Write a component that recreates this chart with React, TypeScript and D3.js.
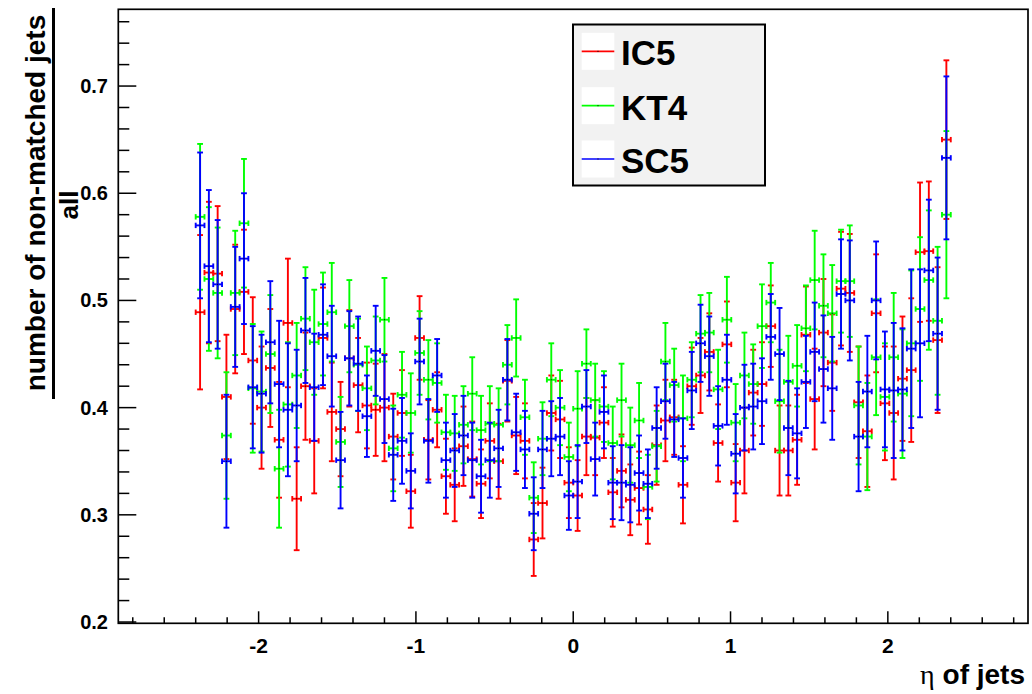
import React from "react";
import * as d3 from "d3";

// Histogram binning (eta of jets): 86 bins between -2.4 and 2.4
const etaMin = -2.4;
const etaMax = 2.4;
const nBins = 86;

const seriesNames = ["IC5", "KT4", "SC5"];
const seriesColors = ["#ff0000", "#00ff00", "#0000ff"];

const ic5 = [
  0.489, 0.526, 0.525, 0.410, 0.492, 0.508, 0.444, 0.400, 0.437, 0.370,
  0.479, 0.315, 0.420, 0.369, 0.465, 0.396, 0.380, 0.446, 0.421, 0.402,
  0.398, 0.400, 0.373, 0.395, 0.322, 0.465, 0.370, 0.398, 0.336, 0.328,
  0.364, 0.352, 0.329, 0.369, 0.350, 0.425, 0.374, 0.369, 0.277, 0.311,
  0.395, 0.389, 0.330, 0.318, 0.373, 0.372, 0.386, 0.321, 0.341, 0.314,
  0.325, 0.305, 0.365, 0.388, 0.391, 0.328, 0.420, 0.430, 0.452, 0.367,
  0.459, 0.330, 0.360, 0.414, 0.422, 0.476, 0.360, 0.360, 0.370, 0.468,
  0.408, 0.470, 0.442, 0.511, 0.507, 0.405, 0.378, 0.488, 0.404, 0.395,
  0.427, 0.435, 0.545, 0.546, 0.463, 0.650,
];
const ic5Err = [
  0.072, 0.066, 0.063, 0.058, 0.060, 0.058, 0.059, 0.057, 0.055, 0.054,
  0.060, 0.048, 0.050, 0.049, 0.047, 0.046, 0.044, 0.045, 0.044, 0.040,
  0.043, 0.050, 0.040, 0.040, 0.034, 0.039, 0.037, 0.035, 0.035, 0.034,
  0.037, 0.035, 0.032, 0.035, 0.035, 0.038, 0.036, 0.035, 0.034, 0.033,
  0.035, 0.036, 0.033, 0.033, 0.036, 0.035, 0.033, 0.032, 0.034, 0.033,
  0.034, 0.032, 0.037, 0.038, 0.035, 0.036, 0.036, 0.035, 0.036, 0.036,
  0.040, 0.036, 0.040, 0.040, 0.039, 0.038, 0.042, 0.042, 0.042, 0.045,
  0.047, 0.050, 0.045, 0.053, 0.055, 0.052, 0.052, 0.055, 0.053, 0.062,
  0.058, 0.067, 0.065, 0.065, 0.068, 0.074,
];
const kt4 = [
  0.578, 0.520, 0.507, 0.374, 0.507, 0.572, 0.418, 0.415, 0.450, 0.343,
  0.403, 0.430, 0.483, 0.461, 0.478, 0.489, 0.368, 0.476, 0.440, 0.418,
  0.444, 0.482, 0.362, 0.412, 0.395, 0.451, 0.426, 0.423, 0.377, 0.376,
  0.384, 0.413, 0.379, 0.385, 0.384, 0.440, 0.465, 0.391, 0.316, 0.371,
  0.426, 0.400, 0.354, 0.399, 0.441, 0.407, 0.401, 0.367, 0.407, 0.365,
  0.388, 0.326, 0.364, 0.443, 0.421, 0.390, 0.426, 0.469, 0.470, 0.417,
  0.482, 0.386, 0.430, 0.422, 0.476, 0.498, 0.406, 0.424, 0.439, 0.474,
  0.519, 0.495, 0.488, 0.518, 0.518, 0.402, 0.373, 0.447, 0.410, 0.447,
  0.413, 0.460, 0.492, 0.519, 0.481, 0.580,
];
const kt4Err = [
  0.068, 0.067, 0.061, 0.059, 0.058, 0.060, 0.060, 0.056, 0.055, 0.055,
  0.058, 0.049, 0.048, 0.049, 0.048, 0.046, 0.042, 0.043, 0.043, 0.039,
  0.041, 0.039, 0.040, 0.040, 0.037, 0.039, 0.037, 0.037, 0.035, 0.035,
  0.036, 0.034, 0.032, 0.035, 0.034, 0.037, 0.036, 0.035, 0.033, 0.034,
  0.034, 0.035, 0.032, 0.035, 0.032, 0.034, 0.033, 0.034, 0.034, 0.035,
  0.035, 0.030, 0.033, 0.036, 0.034, 0.040, 0.035, 0.036, 0.037, 0.037,
  0.040, 0.036, 0.040, 0.037, 0.039, 0.037, 0.048, 0.043, 0.038, 0.040,
  0.046, 0.048, 0.045, 0.048, 0.052, 0.055, 0.050, 0.054, 0.050, 0.060,
  0.060, 0.068, 0.067, 0.065, 0.069, 0.078,
];
const sc5 = [
  0.570, 0.532, 0.515, 0.350, 0.494, 0.539, 0.419, 0.413, 0.461, 0.422,
  0.398, 0.402, 0.472, 0.419, 0.468, 0.448, 0.351, 0.446, 0.441, 0.392,
  0.453, 0.408, 0.356, 0.369, 0.341, 0.443, 0.369, 0.430, 0.351, 0.360,
  0.374, 0.351, 0.336, 0.351, 0.362, 0.426, 0.377, 0.361, 0.301, 0.361,
  0.371, 0.373, 0.318, 0.331, 0.401, 0.352, 0.396, 0.330, 0.330, 0.328,
  0.339, 0.329, 0.381, 0.406, 0.389, 0.353, 0.416, 0.460, 0.448, 0.383,
  0.426, 0.357, 0.400, 0.401, 0.406, 0.466, 0.450, 0.381, 0.376, 0.424,
  0.452, 0.436, 0.418, 0.506, 0.500, 0.373, 0.415, 0.500, 0.417, 0.416,
  0.417, 0.455, 0.460, 0.528, 0.469, 0.633,
];
const sc5Err = [
  0.068, 0.071, 0.060, 0.062, 0.056, 0.061, 0.057, 0.055, 0.057, 0.059,
  0.062, 0.052, 0.049, 0.050, 0.047, 0.047, 0.045, 0.044, 0.044, 0.038,
  0.042, 0.041, 0.043, 0.040, 0.035, 0.040, 0.039, 0.034, 0.035, 0.034,
  0.037, 0.035, 0.034, 0.035, 0.036, 0.038, 0.036, 0.036, 0.034, 0.036,
  0.035, 0.036, 0.032, 0.034, 0.034, 0.034, 0.034, 0.034, 0.035, 0.035,
  0.035, 0.032, 0.038, 0.035, 0.035, 0.037, 0.036, 0.036, 0.037, 0.037,
  0.042, 0.037, 0.040, 0.040, 0.040, 0.040, 0.043, 0.044, 0.042, 0.043,
  0.046, 0.050, 0.048, 0.051, 0.056, 0.051, 0.052, 0.055, 0.054, 0.063,
  0.057, 0.074, 0.069, 0.066, 0.071, 0.076,
];

const xTickLabels = ["-2", "-1", "0", "1", "2"];
const yTickLabels = ["0.2", "0.3", "0.4", "0.5", "0.6", "0.7"];

const W = 1032;
const H = 694;
const FRAME = { left: 118.3, right: 1028, top: 9.3, bottom: 623.3 };
const FONT = "'Liberation Sans', Arial, Helvetica, sans-serif";

export default function App() {
  const x = d3.scaleLinear().domain([-2.892, 2.891]).range([FRAME.left, FRAME.right]);
  const y = d3.scaleLinear().domain([0.1988, 0.7716]).range([FRAME.bottom, FRAME.top]);
  const binW = (etaMax - etaMin) / nBins;
  const centers = d3.range(nBins).map((i) => etaMin + (i + 0.5) * binW);

  const series = [
    { name: seriesNames[0], color: seriesColors[0], v: ic5, e: ic5Err },
    { name: seriesNames[1], color: seriesColors[1], v: kt4, e: kt4Err },
    { name: seriesNames[2], color: seriesColors[2], v: sc5, e: sc5Err },
  ];

  const sw = 1.9;
  const capW = 2.9;
  const capH = 2.7;

  const xMajor = xTickLabels.map((t) => +t);
  const xMinor = d3.range(-28, 29, 2).map((d) => d / 10).filter((d) => Math.abs(d - Math.round(d)) > 1e-6);
  const yMajor = yTickLabels.map((t) => +t);
  const yMinor = d3.range(20, 78, 2).map((d) => d / 100).filter((d) => Math.abs(d * 10 - Math.round(d * 10)) > 1e-6 && d < 0.7716);

  const legendY = [51.3, 105.7, 159];

  return (
    <svg width={W} height={H} style={{ position: "fixed", left: 0, top: 0, background: "#fff" }} fontFamily={FONT}>
      <rect x={0} y={0} width={W} height={H} fill="#fff" />
      {/* frame */}
      <rect x={FRAME.left} y={FRAME.top} width={FRAME.right - FRAME.left} height={FRAME.bottom - FRAME.top} fill="none" stroke="#000" strokeWidth={1.7} />
      {/* x ticks */}
      {xMajor.map((t) => (
        <line key={"xM" + t} x1={x(t)} x2={x(t)} y1={FRAME.bottom} y2={FRAME.bottom - 12} stroke="#000" strokeWidth={1.5} />
      ))}
      {xMinor.map((t) => (
        <line key={"xm" + t} x1={x(t)} x2={x(t)} y1={FRAME.bottom} y2={FRAME.bottom - 6} stroke="#000" strokeWidth={1.5} />
      ))}
      {xTickLabels.map((t) => (
        <text key={"xl" + t} x={x(+t)} y={653} textAnchor="middle" fontSize={21} fontWeight="bold">{t}</text>
      ))}
      {/* y ticks */}
      {yMajor.map((t) => (
        <line key={"yM" + t} x1={FRAME.left} x2={FRAME.left + 18} y1={y(t)} y2={y(t)} stroke="#000" strokeWidth={1.5} />
      ))}
      {yMinor.map((t) => (
        <line key={"ym" + t} x1={FRAME.left} x2={FRAME.left + 11} y1={y(t)} y2={y(t)} stroke="#000" strokeWidth={1.5} />
      ))}
      {yTickLabels.map((t) => (
        <text key={"yl" + t} x={108} y={y(+t) + 7} textAnchor="end" fontSize={20} fontWeight="bold">{t}</text>
      ))}
      {/* series */}
      {series.map((s) => (
        <g key={s.name} stroke={s.color} strokeWidth={sw} fill="none">
          {s.v.map((v, i) => {
            const e = s.e[i];
            const cx = x(centers[i]);
            const x0 = x(centers[i] - binW / 2);
            const x1 = x(centers[i] + binW / 2);
            const yt = y(v + e);
            const yb = y(v - e);
            const yc = y(v);
            return (
              <g key={i}>
                <line x1={cx} x2={cx} y1={yt} y2={yb} />
                <line x1={cx - capW} x2={cx + capW} y1={yt} y2={yt} />
                <line x1={cx - capW} x2={cx + capW} y1={yb} y2={yb} />
                <line x1={x0} x2={x1} y1={yc} y2={yc} />
                <line x1={x0} x2={x0} y1={yc - capH} y2={yc + capH} />
                <line x1={x1} x2={x1} y1={yc - capH} y2={yc + capH} />
                <rect x={cx - 0.5} y={yc - 0.5} width={1} height={1} fill="#000" stroke="none" />
              </g>
            );
          })}
        </g>
      ))}
      {/* legend */}
      <rect x={573} y={24.5} width={192} height={161} fill="#f2f2f2" stroke="#000" strokeWidth={2} />
      {series.map((s, i) => (
        <g key={"lg" + s.name}>
          <rect x={581.7} y={legendY[i] - 18.5} width={32.6} height={37} fill="#fff" />
          <line x1={581.7} x2={614.3} y1={legendY[i]} y2={legendY[i]} stroke={s.color} strokeWidth={1.7} />
          <rect x={597.5} y={legendY[i] - 0.5} width={1} height={1} fill="#000" />
          <text x={621} y={legendY[i] + 14} fontSize={35} fontWeight="bold">{s.name}</text>
        </g>
      ))}
      {/* y title as fraction */}
      <g transform="translate(45,203) rotate(-90)">
        <text x={0} y={0} textAnchor="middle" fontSize={28} fontWeight="bold">number of non-matched jets</text>
      </g>
      <line x1={53.5} x2={53.5} y1={8} y2={399} stroke="#000" strokeWidth={3} />
      <g transform="translate(78,205) rotate(-90)">
        <text x={0} y={0} textAnchor="middle" fontSize={26} fontWeight="bold">all</text>
      </g>
      {/* x title */}
      <text x={1025} y={684} textAnchor="end" fontSize={28} fontWeight="bold">
        <tspan fontFamily="'Liberation Serif', 'DejaVu Serif', serif" fontWeight="normal">η</tspan>
        <tspan> of jets</tspan>
      </text>
    </svg>
  );
}
